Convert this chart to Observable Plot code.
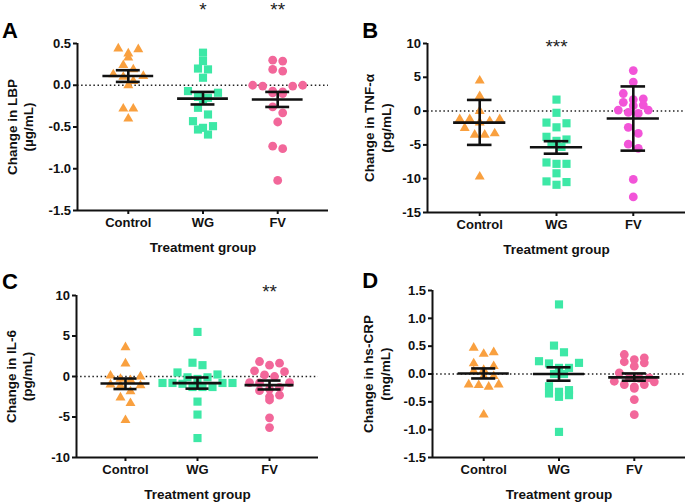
<!DOCTYPE html>
<html><head><meta charset="utf-8">
<script src="https://cdn.jsdelivr.net/npm/d3@7"></script>
<script src="https://cdn.jsdelivr.net/npm/@observablehq/plot@0.6"></script>
<style>
body{margin:0;background:#fff;}
#chart{position:relative;width:685px;height:502px;overflow:hidden;background:#fff;}
.panel{position:absolute;}
</style></head><body><div id="chart"></div>
<script>
// ---------- data ----------
const groups = ["Control", "WG", "FV"];
const xTitle = "Treatment group";

// Panel A: LBP (µg/mL)
const lbpControl = [0.44, 0.43, 0.38, 0.33, 0.24, 0.19, 0.13, 0.11, 0.10, 0.05, 0.0, -0.28, -0.28, -0.40];
const lbpWG = [0.39, 0.29, 0.20, 0.19, 0.09, -0.07, -0.09, -0.14, -0.15, -0.17, -0.27, -0.35, -0.43, -0.49, -0.51, -0.53, -0.59];
const lbpFV = [0.30, 0.29, 0.19, 0.17, 0.0, 0.0, -0.01, -0.01, -0.07, -0.08, -0.09, -0.10, -0.26, -0.33, -0.44, -0.73, -0.76, -1.14];
const lbpMean = [0.11, -0.16, -0.17];
const lbpHi = [0.18, -0.08, -0.08];
const lbpLo = [0.04, -0.23, -0.26];
const lbpSig = ["", "*", "**"];
const lbpTicks = [0.5, 0.0, -0.5, -1.0, -1.5];

// Panel B: TNF-α (pg/mL)
const tnfControl = [4.5, 2.2, 0, -1.2, -1.2, -1.2, -1.5, -1.7, -2.5, -3.3, -3.5, -3.5, -9.7];
const tnfWG = [1.7, -0.25, -1.7, -1.8, -2.4, -3.8, -4.2, -4.4, -4.9, -5.3, -7.6, -7.8, -7.8, -9.2, -10.4, -10.5, -10.9];
const tnfFV = [6.0, 4.3, 2.6, 1.8, 1.7, 1.3, 0.9, 0.8, 0.15, 0.15, -0.2, -0.35, -2.4, -3.3, -4.9, -5.5, -10.1, -12.7];
const tnfMean = [-1.7, -5.35, -1.1];
const tnfHi = [1.65, -4.45, 3.65];
const tnfLo = [-5.0, -6.3, -5.85];
const tnfSig = ["", "***", ""];
const tnfTicks = [10, 5, 0, -5, -10, -15];

// Panel C: IL-6 (pg/mL)
const il6Control = [3.6, 1.6, 0.1, 0.0, -0.3, -0.45, -1.0, -1.1, -1.15, -1.85, -2.6, -3.3, -5.4];
const il6WG = [5.5, 1.7, 1.4, 0.5, 0.25, -0.1, -0.1, -0.3, -0.8, -0.8, -0.8, -0.8, -0.9, -1.3, -1.3, -1.3, -3.1, -4.7, -7.6];
const il6FV = [1.85, 1.65, 1.4, 0.7, 0.6, 0.2, 0.0, -0.75, -0.75, -0.8, -1.35, -1.55, -1.75, -2.3, -2.5, -2.9, -5.1, -6.3];
const il6Mean = [-0.87, -0.82, -1.07];
const il6Hi = [-0.25, -0.12, -0.5];
const il6Lo = [-1.55, -1.5, -1.6];
const il6Sig = ["", "", "**"];
const il6Ticks = [10, 5, 0, -5, -10];

// Panel D: hs-CRP (mg/mL)
const crpControl = [0.47, 0.39, 0.36, 0.19, 0.14, 0.07, 0.05, -0.04, -0.04, -0.19, -0.19, -0.2, -0.23, -0.73];
const crpWG = [1.25, 0.51, 0.39, 0.23, 0.2, 0.19, 0.11, 0.11, 0.0, 0.0, -0.22, -0.29, -0.32, -0.35, -0.38, -0.41, -1.04];
const crpFV = [0.35, 0.29, 0.26, 0.22, 0.2, 0.14, 0.02, -0.07, -0.07, -0.08, -0.13, -0.14, -0.19, -0.19, -0.23, -0.26, -0.46, -0.73];
const crpMean = [0.01, 0.0, -0.06];
const crpHi = [0.1, 0.12, 0.01];
const crpLo = [-0.08, -0.12, -0.12];
const crpSig = ["", "", ""];
const crpTicks = [1.5, 1.0, 0.5, 0.0, -0.5, -1.0, -1.5];

// ---------- styling ----------
const symbols = ["triangle", "square", "circle"];
const radii = [3.7, 4.6, 4.4];
const FONT = "'Liberation Sans', Arial, Helvetica, sans-serif";

// scatter-dot-plot layout: values (sorted) are grouped into rows of limited
// pixel height, and each row is spread symmetrically around the group centre
function rowSwarm(vals, ky, binH, sp) {
  const out = new Array(vals.length);
  const order = d3.range(vals.length).sort((a, b) => d3.descending(vals[a], vals[b]));
  const rowsList = [];
  let cur = null;
  for (const i of order) {
    if (!cur || (vals[cur[0]] - vals[i]) * ky > binH) { cur = []; rowsList.push(cur); }
    cur.push(i);
  }
  for (const idx of rowsList) {
    const n = idx.length;
    const slots = d3.range(n).map(k => (k - (n - 1) / 2) * sp)
      .sort((a, b) => Math.abs(b) - Math.abs(a) || a - b);
    idx.forEach((i, k) => out[i] = slots[k]);
  }
  return out;
}

function panel(cfg) {
  const xDom = [-0.68, 2.68];
  const fw = cfg.width - cfg.marginLeft - cfg.marginRight;
  const fh = cfg.height - cfg.marginTop - cfg.marginBottom;
  const kx = fw / (xDom[1] - xDom[0]);
  const ky = fh / (cfg.yDomain[1] - cfg.yDomain[0]);
  const rows = [];
  cfg.values.forEach((vals, gi) => {
    const offs = rowSwarm(vals, ky, 7, 10);
    vals.forEach((v, j) => rows.push({g: gi, v, x: gi + offs[j] / kx}));
  });
  const stats = groups.map((g, i) => ({i, mean: cfg.mean[i], hi: cfg.hi[i], lo: cfg.lo[i], sig: cfg.sig[i]}));
  const plot = Plot.plot({
    width: cfg.width, height: cfg.height,
    marginLeft: cfg.marginLeft, marginRight: cfg.marginRight,
    marginTop: cfg.marginTop, marginBottom: cfg.marginBottom,
    style: {fontFamily: FONT, fontSize: "13px", fontWeight: "bold", background: "transparent", overflow: "visible"},
    x: {domain: xDom, axis: null},
    y: {domain: cfg.yDomain, axis: null},
    marks: [
      Plot.ruleY([0], {stroke: "#222", strokeWidth: 1.5, strokeDasharray: "1.5,2.6"}),
      ...groups.map((g, gi) => Plot.dot(rows.filter(r => r.g === gi), {
        x: "x", y: "v", symbol: symbols[gi], r: radii[gi], fill: cfg.colors[gi], stroke: "none"
      })),
      Plot.ruleY(stats, {y: "mean", x1: d => d.i - 0.34, x2: d => d.i + 0.34, stroke: "#111", strokeWidth: 2.6}),
      Plot.ruleY(stats, {y: "hi", x1: d => d.i - 0.16, x2: d => d.i + 0.16, stroke: "#111", strokeWidth: 2.6}),
      Plot.ruleY(stats, {y: "lo", x1: d => d.i - 0.16, x2: d => d.i + 0.16, stroke: "#111", strokeWidth: 2.6}),
      Plot.ruleX(stats, {x: "i", y1: "lo", y2: "hi", stroke: "#111", strokeWidth: 2.6}),
      Plot.ruleX([xDom[0]], {stroke: "#111", strokeWidth: 2}),
      Plot.ruleY([cfg.yDomain[0]], {stroke: "#111", strokeWidth: 2}),
      Plot.axisY({ticks: cfg.ticks, tickFormat: cfg.fmt, tickSize: 4, tickPadding: 2.5, strokeWidth: 2, stroke: "#111", label: null, fill: "#111", fontSize: 13, fontWeight: "bold"}),
      Plot.axisX({ticks: [0, 1, 2], tickFormat: i => groups[i], tickSize: 4, tickPadding: 3.5, strokeWidth: 2, stroke: "#111", label: null, fill: "#111", fontSize: 13, fontWeight: "bold"}),
      Plot.text([cfg.yLabel], {frameAnchor: "left", dx: cfg.ylabDx, rotate: -90, textAnchor: "middle", lineAnchor: "middle", lineHeight: 1.22, fontSize: 13.5, fontWeight: "bold", fill: "#111"}),
      Plot.text([xTitle], {frameAnchor: "bottom", dy: 32, lineAnchor: "top", fontSize: 13.5, fontWeight: "bold", fill: "#111"}),
      Plot.text([cfg.letter], {frameAnchor: "top-left", dx: cfg.letterDx, dy: cfg.letterDy, textAnchor: "start", lineAnchor: "top", fontSize: 22, fontWeight: "bold", fill: "#000"}),
      Plot.text(stats.filter(d => d.sig), {x: "i", text: "sig", frameAnchor: "top", dy: cfg.sigDy, lineAnchor: "middle", fontSize: 19, fontWeight: "normal", fill: "#222"})
    ]
  });
  const div = document.createElement("div");
  div.className = "panel";
  div.style.left = cfg.left + "px";
  div.style.top = cfg.top + "px";
  div.appendChild(plot);
  document.getElementById("chart").appendChild(div);
}

const f1 = d => d.toFixed(1);
const f0 = d => String(d);
const orange = "#F9A03F", green = "#3DE8A6", pink = "#F2679A", magenta = "#F254D8";

panel({left: 0, top: 0, width: 340, height: 256, marginLeft: 77, marginRight: 12, marginTop: 43, marginBottom: 46,
  yDomain: [-1.5, 0.5], ticks: lbpTicks, fmt: f1, values: [lbpControl, lbpWG, lbpFV],
  mean: lbpMean, hi: lbpHi, lo: lbpLo, sig: lbpSig, colors: [orange, green, pink],
  yLabel: "Change in LBP\n(µg/mL)", ylabDx: -58, letter: "A", letterDx: -75.5, letterDy: -21, sigDy: -34});

panel({left: 340, top: 0, width: 345, height: 256, marginLeft: 87, marginRight: 0, marginTop: 43, marginBottom: 44,
  yDomain: [-15, 10], ticks: tnfTicks, fmt: f0, values: [tnfControl, tnfWG, tnfFV],
  mean: tnfMean, hi: tnfHi, lo: tnfLo, sig: tnfSig, colors: [orange, green, magenta],
  yLabel: "Change in TNF-α\n(pg/mL)", ylabDx: -50.5, letter: "B", letterDx: -65.3, letterDy: -21, sigDy: 3});

panel({left: 0, top: 256, width: 340, height: 246, marginLeft: 76, marginRight: 22, marginTop: 39, marginBottom: 45,
  yDomain: [-10, 10], ticks: il6Ticks, fmt: f0, values: [il6Control, il6WG, il6FV],
  mean: il6Mean, hi: il6Hi, lo: il6Lo, sig: il6Sig, colors: [orange, green, pink],
  yLabel: "Change in IL-6\n(pg/mL)", ylabDx: -58, letter: "C", letterDx: -74.5, letterDy: -21.7, sigDy: -4});

panel({left: 340, top: 256, width: 345, height: 246, marginLeft: 92, marginRight: 0, marginTop: 34, marginBottom: 45,
  yDomain: [-1.5, 1.5], ticks: crpTicks, fmt: f1, values: [crpControl, crpWG, crpFV],
  mean: crpMean, hi: crpHi, lo: crpLo, sig: crpSig, colors: [orange, green, pink],
  yLabel: "Change in hs-CRP\n(mg/mL)", ylabDx: -56.5, letter: "D", letterDx: -70.3, letterDy: -18.3, sigDy: 0});
</script>
</body></html>
